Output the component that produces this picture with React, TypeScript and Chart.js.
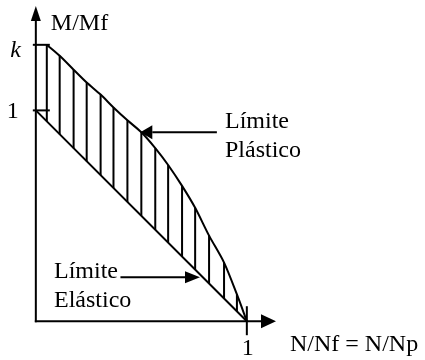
import React, { useEffect, useRef } from "react";
import { Chart, registerables } from "chart.js";

Chart.register(...registerables);

// Plastic limit curve (N/Np, M/Mf)
const plasticX = [0.052, 0.113, 0.179, 0.241, 0.307, 0.368, 0.434, 0.5, 0.566, 0.627, 0.693, 0.755, 0.821, 0.892, 0.953, 1.0];
const plasticY = [1.311, 1.259, 1.193, 1.132, 1.075, 1.014, 0.953, 0.896, 0.821, 0.741, 0.642, 0.538, 0.406, 0.278, 0.127, 0.0];

// Elastic limit line
const elasticX = [0, 1];
const elasticY = [1, 0];

// Hatching between the two limits
const hatchX = [0.052, 0.113, 0.179, 0.241, 0.307, 0.368, 0.434, 0.5, 0.566, 0.627, 0.693, 0.755, 0.821, 0.892, 0.953];
const hatchTop = [1.311, 1.259, 1.193, 1.132, 1.075, 1.014, 0.953, 0.896, 0.821, 0.741, 0.642, 0.538, 0.406, 0.278, 0.127];
const hatchBottom = [0.95, 0.887, 0.821, 0.759, 0.693, 0.632, 0.566, 0.5, 0.434, 0.373, 0.307, 0.245, 0.179, 0.108, 0.047];

// Ticks
const yTickValues = [1.311, 1];
const yTickLabels = ["k", "1"];
const xTickValues = [1];
const xTickLabels = ["1"];

const yAxisTitle = "M/Mf";
const xAxisTitle = "N/Nf = N/Np";
const plasticLabel = ["Límite", "Plástico"];
const elasticLabel = ["Límite", "Elástico"];

const FAMILY = '"Liberation Serif"';
const FONT = "24px " + FAMILY;

export default function App() {
  const ref = useRef<HTMLCanvasElement | null>(null);

  useEffect(() => {
    if (!ref.current) return;

    const hatchData: any[] = [];
    hatchX.forEach((x, i) => {
      hatchData.push({ x, y: hatchTop[i] });
      hatchData.push({ x, y: hatchBottom[i] });
      hatchData.push({ x, y: null });
    });

    const drawPlugin = {
      id: "drawings",
      afterDatasetsDraw(chart: any) {
        const ctx = chart.ctx as CanvasRenderingContext2D;
        const xs = chart.scales.x;
        const ys = chart.scales.y;
        const px = (v: number) => xs.getPixelForValue(v);
        const py = (v: number) => ys.getPixelForValue(v);
        ctx.save();
        ctx.strokeStyle = "#000";
        ctx.fillStyle = "#000";
        ctx.lineWidth = 2;
        ctx.lineCap = "butt";

        const arrow = (x1: number, y1: number, x2: number, y2: number, len: number, half: number) => {
          const dx = x2 - x1;
          const dy = y2 - y1;
          const d = Math.hypot(dx, dy);
          const ux = dx / d;
          const uy = dy / d;
          const bx = x2 - ux * len;
          const by = y2 - uy * len;
          ctx.beginPath();
          ctx.moveTo(x1, y1);
          ctx.lineTo(bx, by);
          ctx.stroke();
          ctx.beginPath();
          ctx.moveTo(x2, y2);
          ctx.lineTo(bx - uy * half, by + ux * half);
          ctx.lineTo(bx + uy * half, by - ux * half);
          ctx.closePath();
          ctx.fill();
        };

        const ox = px(0);
        const oy = py(0);
        // axes
        arrow(ox, oy + 1, ox, 6, 15, 5);
        arrow(ox - 1, oy, 276, oy, 15, 7);

        // y ticks
        yTickValues.forEach((v) => {
          ctx.beginPath();
          ctx.moveTo(ox - 3, py(v));
          ctx.lineTo(ox + 14, py(v));
          ctx.stroke();
        });
        // x ticks
        xTickValues.forEach((v) => {
          ctx.beginPath();
          ctx.moveTo(px(v), oy - 15);
          ctx.lineTo(px(v), oy + 14);
          ctx.stroke();
        });

        // pointer arrows
        arrow(px(0.858), py(plasticY[7]), px(0.495), py(plasticY[7]), 12, 7);
        arrow(px(0.401), py(0.208), px(0.778), py(0.208), 15, 6);

        // texts
        ctx.textBaseline = "alphabetic";
        ctx.textAlign = "right";
        ctx.font = "italic " + FONT;
        ctx.fillText(yTickLabels[0], ox - 15, py(yTickValues[0]) + 12);
        ctx.font = FONT;
        ctx.fillText(yTickLabels[1], ox - 17, py(yTickValues[1]) + 8);
        ctx.textAlign = "center";
        xTickLabels.forEach((t, i) => ctx.fillText(t, px(xTickValues[i]) + 1, oy + 34));
        ctx.textAlign = "left";
        ctx.fillText(yAxisTitle, ox + 15, 30);
        ctx.fillText(xAxisTitle, 290, oy + 30);
        ctx.fillText(plasticLabel[0], 225, 128);
        ctx.fillText(plasticLabel[1], 225, 157);
        ctx.fillText(elasticLabel[0], 54, 278);
        ctx.fillText(elasticLabel[1], 54, 307);
        ctx.restore();
      },
    };

    const chart = new Chart(ref.current, {
      type: "line",
      data: {
        datasets: [
          {
            data: plasticX.map((x, i) => ({ x, y: plasticY[i] })),
            borderColor: "#000",
            borderWidth: 2,
            pointRadius: 0,
            tension: 0.3,
            fill: false,
          },
          {
            data: elasticX.map((x, i) => ({ x, y: elasticY[i] })),
            borderColor: "#000",
            borderWidth: 2,
            pointRadius: 0,
            fill: false,
          },
          {
            data: hatchData,
            borderColor: "#000",
            borderWidth: 2,
            pointRadius: 0,
            spanGaps: false,
            fill: false,
          },
        ] as any,
      },
      options: {
        animation: false,
        responsive: false,
        maintainAspectRatio: false,
        layout: { padding: 0 },
        parsing: false as any,
        scales: {
          x: { type: "linear", min: -35 / 212, max: 390 / 212, display: false },
          y: { type: "linear", min: -38 / 212, max: 322 / 212, display: false },
        },
        plugins: {
          legend: { display: false },
          tooltip: { enabled: false },
        },
      },
      plugins: [drawPlugin],
    });

    let alive = true;
    const fonts = (document as any).fonts;
    if (fonts && fonts.load) {
      Promise.all([fonts.load(FONT, "Límite"), fonts.load("italic " + FONT, "k")])
        .then(() => {
          if (alive) chart.update();
        })
        .catch(() => {});
    }

    return () => {
      alive = false;
      chart.destroy();
    };
  }, []);

  return (
    <div style={{ position: "fixed", left: 0, top: 0, width: 425, height: 360, background: "#fff" }}>
      <span style={{ fontFamily: FAMILY, position: "absolute", left: -1000, top: 0, fontSize: 24 }}>
        Límite <i>k</i>
      </span>
      <canvas ref={ref} width={425} height={360} style={{ display: "block" }} />
    </div>
  );
}
